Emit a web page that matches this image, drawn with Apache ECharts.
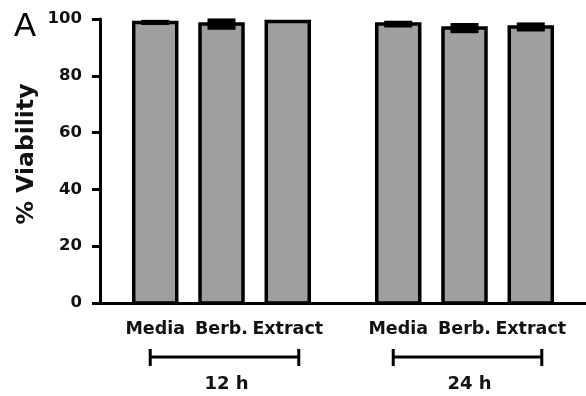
<!DOCTYPE html>
<html>
<head>
<meta charset="utf-8">
<script src="https://cdn.jsdelivr.net/npm/echarts@6/dist/echarts.min.js"></script>
<style>html,body{margin:0;padding:0;background:#fff}#c{width:586px;height:396px}</style>
</head>
<body>
<div id="c"></div>
<script>
const panelLabel = "A";
const yAxisTitle = "% Viability";
const groups = ["12 h", "24 h"];
const treatments = ["Media", "Berb.", "Extract"];
const viability12 = [98.8, 98.2, 99.1];
const sem12 = [0.9, 2.0, 0.3];
const viability24 = [98.2, 96.8, 97.2];
const sem24 = [1.2, 1.8, 1.6];
const yTicks = [0, 20, 40, 60, 80, 100];

// category slot layout (spacing only)
const LEAD = 2, STEP = 3, GAP = 5, TOTAL = 22;
const categories = new Array(TOTAL).fill("");
const barData = [];
const bracketData = [];
const groupValues = [viability12, viability24];
const groupErrs = [sem12, sem24];
let idx = LEAD;
groups.forEach((g, gi) => {
  const start = idx;
  treatments.forEach((t, ti) => {
    categories[idx] = t;
    barData.push([idx, groupValues[gi][ti], groupErrs[gi][ti]]);
    if (ti < treatments.length - 1) idx += STEP;
  });
  bracketData.push([start, idx, gi]);
  idx += GAP;
});

const FONT = "DejaVu Sans";
const chart = echarts.init(document.getElementById('c'), null, {renderer: 'canvas'});
chart.setOption({
  animation: false,
  backgroundColor: '#fff',
  grid: {left: 100, right: 0, top: 19, bottom: 93},
  xAxis: {
    type: 'category',
    data: categories,
    axisLine: {lineStyle: {color: '#000', width: 3}},
    axisTick: {
      alignWithLabel: true, length: 8, lineStyle: {color: '#000', width: 3},
      interval: (i) => categories[i] !== ""
    },
    axisLabel: {
      interval: 0, margin: 17, color: '#111',
      fontFamily: FONT, fontWeight: 'bold', fontSize: 17.5
    },
    splitLine: {show: false}
  },
  yAxis: {
    type: 'value', min: yTicks[0], max: yTicks[yTicks.length - 1], interval: 20,
    axisLine: {show: true, lineStyle: {color: '#000', width: 3}},
    axisTick: {show: true, length: 8, lineStyle: {color: '#000', width: 3}},
    axisLabel: {margin: 18, color: '#111', fontFamily: FONT, fontWeight: 'bold', fontSize: 16.5},
    splitLine: {show: false}
  },
  graphic: [
    {type: 'text', left: 14, top: 10, style: {text: panelLabel, font: 'normal 33px "Liberation Sans", Arial, sans-serif', fill: '#000'}},
    {type: 'text', x: 27, y: 154, rotation: Math.PI / 2,
     style: {text: yAxisTitle, font: 'bold 23.5px "DejaVu Sans"', fill: '#111', align: 'center', verticalAlign: 'middle'}}
  ],
  series: [
    {
      type: 'custom',
      data: barData,
      encode: {x: 0, y: 1},
      renderItem: function (params, api) {
        const x = api.value(0), v = api.value(1), e = api.value(2);
        const top = api.coord([x, v]);
        const base = api.coord([x, 0]);
        const hi = api.coord([x, v + e]);
        const lo = api.coord([x, v - e]);
        const bw = 43, ew = 28;
        return {
          type: 'group',
          children: [
            {type: 'rect', shape: {x: top[0] - bw / 2, y: top[1], width: bw, height: base[1] - top[1]},
             style: {fill: '#9f9f9f', stroke: '#000', lineWidth: 3.5}},
            {type: 'rect', shape: {x: top[0] - ew / 2, y: hi[1], width: ew, height: lo[1] - hi[1]},
             style: {fill: '#000'}}
          ]
        };
      }
    },
    {
      type: 'custom',
      data: bracketData,
      encode: {x: [0, 1]},
      clip: false,
      renderItem: function (params, api) {
        const a = api.coord([api.value(0), 0]);
        const b = api.coord([api.value(1), 0]);
        const g = api.value(2);
        const y = a[1] + 54;
        const x1 = a[0] - 5, x2 = b[0] + 11;
        return {
          type: 'group',
          children: [
            {type: 'line', shape: {x1: x1, y1: y, x2: x2, y2: y}, style: {stroke: '#000', lineWidth: 3}},
            {type: 'line', shape: {x1: x1, y1: y - 8, x2: x1, y2: y + 9}, style: {stroke: '#000', lineWidth: 3}},
            {type: 'line', shape: {x1: x2, y1: y - 8, x2: x2, y2: y + 9}, style: {stroke: '#000', lineWidth: 3}},
            {type: 'text', x: (x1 + x2) / 2 + 2, y: y + 27,
             style: {text: groups[g], font: 'bold 18px "DejaVu Sans"', fill: '#111', align: 'center', verticalAlign: 'middle'}}
          ]
        };
      }
    }
  ]
});
</script>
</body>
</html>
